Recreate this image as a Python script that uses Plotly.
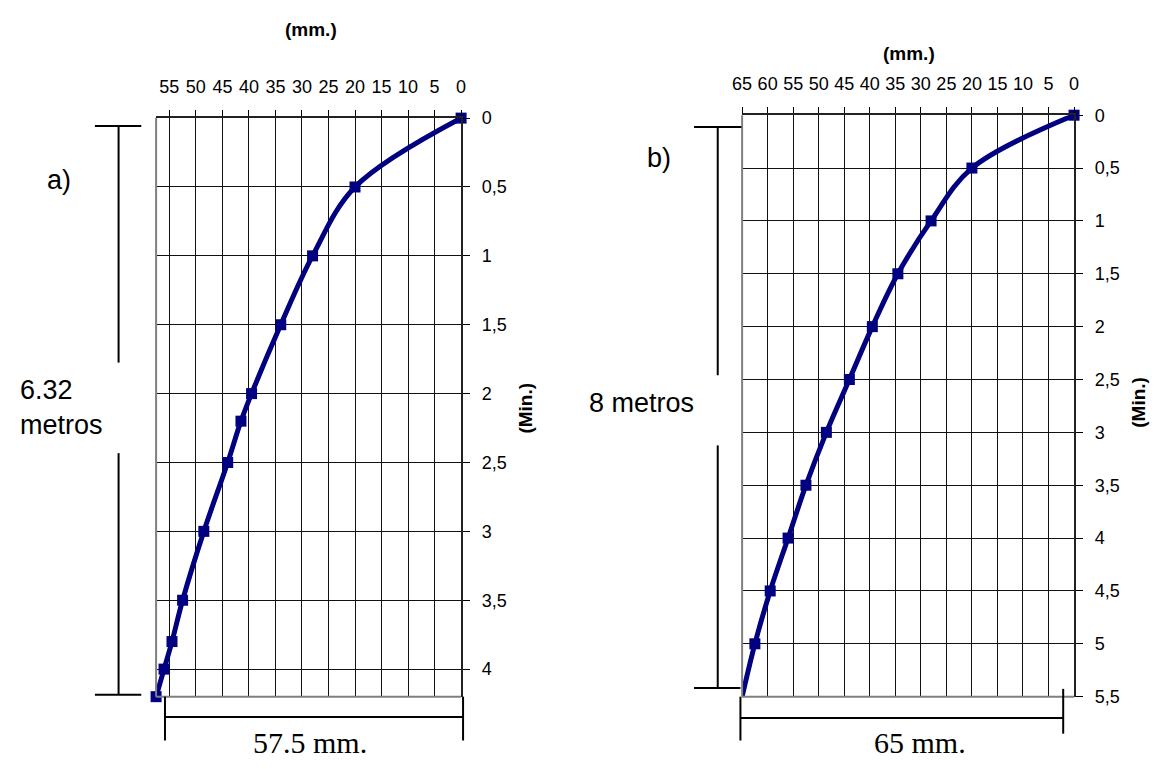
import plotly.graph_objects as go

# ---------------- data ----------------
mm_a = [0, 20, 28, 34, 39.5, 41.5, 44, 48.5, 52.5, 54.5, 56, 57.5]
min_a = [0, 0.5, 1, 1.5, 2, 2.2, 2.5, 3, 3.5, 3.8, 4, 4.2]
mm_b = [0, 20, 28, 34.5, 39.5, 44, 48.5, 52.5, 56, 59.5, 62.5, 65]
min_b = [0, 0.5, 1, 1.5, 2, 2.5, 3, 3.5, 4, 4.5, 5, 5.5]
show_marker_b = [1, 1, 1, 1, 1, 1, 1, 1, 1, 1, 1, 0]

xticks_a = [0, 5, 10, 15, 20, 25, 30, 35, 40, 45, 50, 55]
xticks_b = [0, 5, 10, 15, 20, 25, 30, 35, 40, 45, 50, 55, 60, 65]
yticks_a = [0, 0.5, 1, 1.5, 2, 2.5, 3, 3.5, 4]
yticks_b = [0, 0.5, 1, 1.5, 2, 2.5, 3, 3.5, 4, 4.5, 5, 5.5]
xrange_a = [57.5, 0]
yrange_a = [4.2, 0]
xrange_b = [65, 0]
yrange_b = [5.5, 0]

labels = {
    "a": "a)", "b": "b)",
    "len_a": "6.32<br>metros", "len_b": "8 metros",
    "w_a": "57.5 mm.", "w_b": "65 mm.",
    "xt": "(mm.)", "yt": "(Min.)",
}


def comma(v):
    return f"{v:g}".replace(".", ",")


W, H = 1160, 769
SANS = "Liberation Sans, Arial, sans-serif"
SERIF = "Liberation Serif, Times New Roman, serif"
NAVY = "#000080"


def X(p):
    return p / W


def Y(p):
    return 1 - p / H


mk_x_b = [x for x, s in zip(mm_b, show_marker_b) if s]
mk_y_b = [y for y, s in zip(min_b, show_marker_b) if s]

fig = go.Figure()
fig.add_trace(go.Scatter(
    x=mm_a, y=min_a, mode="lines+markers", xaxis="x", yaxis="y",
    line=dict(color=NAVY, width=5, shape="spline"),
    marker=dict(symbol="square", size=11, color=NAVY, line=dict(width=0)),
    cliponaxis=False, hoverinfo="skip"))
fig.add_trace(go.Scatter(
    x=mm_b, y=min_b, mode="lines", xaxis="x2", yaxis="y2",
    line=dict(color=NAVY, width=5, shape="spline"),
    cliponaxis=False, hoverinfo="skip"))
fig.add_trace(go.Scatter(
    x=mk_x_b, y=mk_y_b, mode="markers", xaxis="x2", yaxis="y2",
    marker=dict(symbol="square", size=11, color=NAVY, line=dict(width=0)),
    cliponaxis=False, hoverinfo="skip"))

common_x = dict(side="top", ticks="outside", ticklen=6, tickcolor="#000", tickwidth=1,
                showgrid=True, gridcolor="#111", gridwidth=1, showline=True,
                linecolor="#222", linewidth=2, zeroline=False,
                tickfont=dict(family=SANS, size=18, color="#000"),
                ticklabelstandoff=10, fixedrange=True)
common_y = dict(side="right", ticks="outside", ticklen=7, tickcolor="#000", tickwidth=1,
                showgrid=True, gridcolor="#111", gridwidth=1, showline=True,
                linecolor="#222", linewidth=2, zeroline=False,
                tickfont=dict(family=SANS, size=18, color="#000"),
                ticklabelstandoff=8, fixedrange=True)

fig.update_layout(
    width=W, height=H, margin=dict(l=0, r=0, t=0, b=0),
    paper_bgcolor="white", plot_bgcolor="white", showlegend=False,
    xaxis=dict(domain=[X(148), X(457)], range=xrange_a, anchor="y",
               tickvals=xticks_a, ticktext=[comma(v) for v in xticks_a], **common_x),
    yaxis=dict(domain=[Y(705), Y(111)], range=yrange_a, anchor="x",
               tickvals=yticks_a, ticktext=[comma(v) for v in yticks_a], **common_y),
    xaxis2=dict(domain=[X(741.7), X(1078)], range=xrange_b, anchor="y2",
                tickvals=xticks_b, ticktext=[comma(v) for v in xticks_b], **common_x),
    yaxis2=dict(domain=[Y(705), Y(108)], range=yrange_b, anchor="x2",
                tickvals=yticks_b, ticktext=[comma(v) for v in yticks_b], **common_y),
)

shapes = []
# grey left/bottom borders of the plot areas
for xa, ya in (("x", "y"), ("x2", "y2")):
    shapes.append(dict(type="line", xref=f"{xa} domain", yref=f"{ya} domain",
                       x0=0, x1=0, y0=0, y1=1, line=dict(color="#808080", width=2)))
    shapes.append(dict(type="line", xref=f"{xa} domain", yref=f"{ya} domain",
                       x0=0, x1=1, y0=0, y1=0, line=dict(color="#808080", width=2)))

dim_lines = [
    # left chart
    (86, 119, 133, 119), (110, 119, 110, 362), (110, 455, 110, 703), (86, 703, 133, 703),
    (157, 726, 459, 726), (157, 705, 157, 750), (459, 705, 459, 750),
    # right chart
    (693, 120, 741, 120), (717, 120, 717, 375), (717, 447, 717, 696), (693, 696, 740, 696),
    (740, 727, 1067, 727), (740, 705, 740, 750), (1067, 697, 1067, 743),
]
for x0, y0, x1, y1 in dim_lines:
    shapes.append(dict(type="line", xref="paper", yref="paper",
                       x0=X(x0), y0=Y(y0), x1=X(x1), y1=Y(y1),
                       line=dict(color="#000", width=2)))
fig.update_layout(shapes=shapes)


def ann(text, x, y, size, family=SANS, bold=False, angle=0, align="center"):
    t = f"<b>{text}</b>" if bold else text
    return dict(text=t, x=X(x), y=Y(y), xref="paper", yref="paper",
                xanchor="center", yanchor="middle", showarrow=False,
                textangle=angle, align=align,
                font=dict(family=family, size=size, color="#000"))


fig.update_layout(annotations=[
    ann(labels["xt"], 305, 20, 19, bold=True),
    ann(labels["xt"], 911, 45, 19, bold=True),
    ann(labels["yt"], 522, 409, 19, bold=True, angle=-90),
    ann(labels["yt"], 1143, 403, 19, bold=True, angle=-90),
    ann(labels["a"], 50, 175, 27),
    ann(labels["b"], 657, 152, 27),
    ann(labels["len_a"], 52, 408, 27, align="left"),
    ann(labels["len_b"], 640, 404, 27),
    ann(labels["w_a"], 304, 752, 30, family=SERIF),
    ann(labels["w_b"], 922, 752, 30, family=SERIF),
])

fig.write_html("out.html")
